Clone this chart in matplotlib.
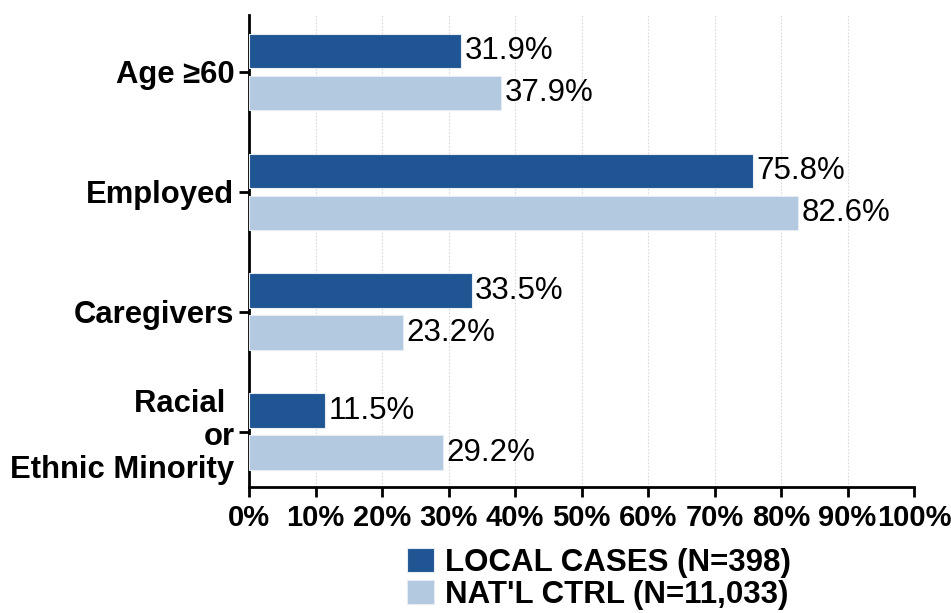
import matplotlib.pyplot as plt
import numpy as np

plt.rcParams['font.family'] = ['Liberation Sans', 'DejaVu Sans']

# Data
categories = ['Age ≥60', 'Employed', 'Caregivers', 'Racial \nor\nEthnic Minority']
local_cases = [31.9, 75.8, 33.5, 11.5]
natl_ctrl = [37.9, 82.6, 23.2, 29.2]
series_labels = ['LOCAL CASES (N=398)', "NAT'L CTRL (N=11,033)"]
x_ticks = list(range(0, 101, 10))

dark = '#1f5593'
light = '#b3c9e0'

fig = plt.figure(figsize=(9.51, 6.13), dpi=100)
ax = fig.add_axes([249 / 951, 1 - 487 / 613, (914 - 249) / 951, (487 - 15) / 613])

y = np.arange(len(categories))
h = 0.29
off = 0.175
b1 = ax.barh(y - off, local_cases, height=h, color=dark, edgecolor='#e6ecf3', linewidth=0.8,
             label=series_labels[0], zorder=3)
b2 = ax.barh(y + off, natl_ctrl, height=h, color=light, edgecolor='#e6ecf3', linewidth=0.8,
             label=series_labels[1], zorder=3)

for bars, vals in [(b1, local_cases), (b2, natl_ctrl)]:
    for bar, v in zip(bars, vals):
        ax.text(v + 0.5, bar.get_y() + bar.get_height() / 2, f'{v:.1f}%',
                va='center', ha='left', fontsize=22.5, color='black', zorder=4)

ax.set_xlim(0, 100)
ax.set_ylim(3.46, -0.475)
ax.set_xticks(x_ticks)
ax.set_xticklabels([f'{t}%' for t in x_ticks], fontsize=21, fontweight='bold')
ax.set_yticks(y)
ax.set_yticklabels(categories, fontsize=22.3, fontweight='bold', linespacing=1.15)

ax.grid(axis='x', color='#d9d9d9', linestyle=(0, (1.5, 1.5)), linewidth=0.8, zorder=0)
ax.set_axisbelow(True)
for s in ['top', 'right']:
    ax.spines[s].set_visible(False)
for s in ['left', 'bottom']:
    ax.spines[s].set_linewidth(2)
ax.tick_params(axis='both', length=7, width=2, direction='out', colors='black')
ax.tick_params(axis='y', pad=3.5)
ax.tick_params(axis='x', pad=5)

fig.legend(handles=[b1, b2], loc='upper left', bbox_to_anchor=(407 / 951, 1 - 548 / 613),
           frameon=False, prop={'weight': 'bold', 'size': 22.5}, handlelength=0.86, handleheight=0.8,
           handletextpad=0.35, labelspacing=0.05, borderpad=0, borderaxespad=0)

plt.savefig('out.png', dpi=100)
